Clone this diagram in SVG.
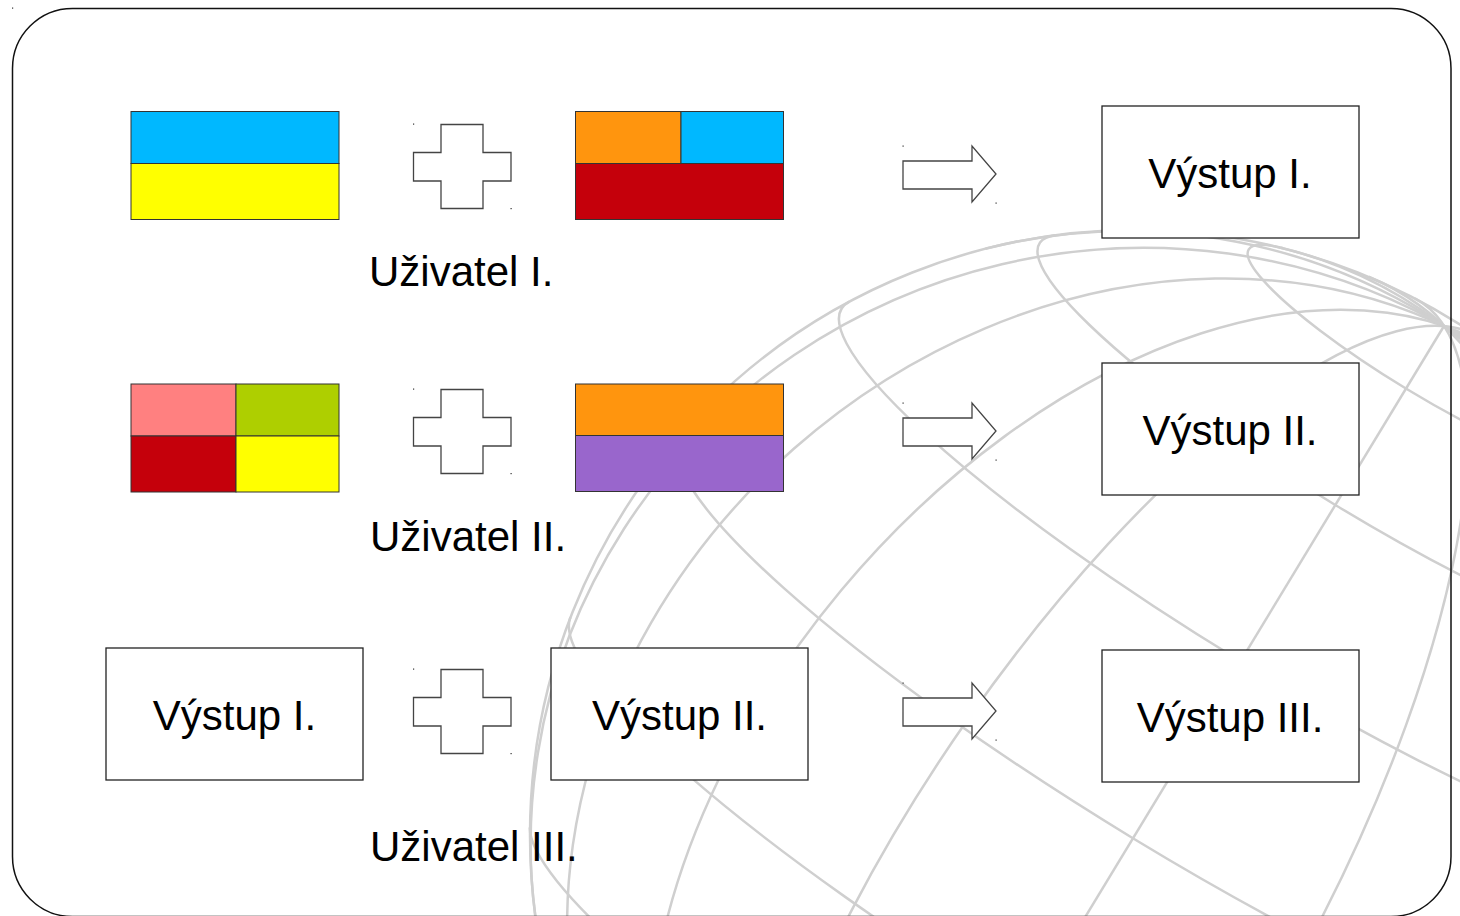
<svg xmlns="http://www.w3.org/2000/svg" width="1460" height="916" viewBox="0 0 1460 916">
<style>
.gl{fill:none;stroke:#cfcfcf;stroke-width:2.5;vector-effect:non-scaling-stroke}
.box{fill:#fff;stroke:#222;stroke-width:1.3}
.cell{stroke:#333;stroke-width:1}
.sym{fill:#fff;stroke:#444;stroke-width:1.3}
.dot{fill:#333}
.t{font-family:"Liberation Sans",Arial,sans-serif;font-size:42px;fill:#000}
.tc{text-anchor:middle}
</style>
<rect x="0" y="0" width="1460" height="916" fill="#fff"/>
<g id="globe">
<circle class="gl" cx="1135" cy="835" r="605"/>
<path class="gl" d="M0.6884 -0.7254A1 1 0 0 1 0.7254 0.6884A1 1 0 0 1 -0.6884 0.7254" transform="matrix(309.2 -508.8 499.6 325.4 1135 835)"/>
<path class="gl" d="M0.9391 -0.3437A1 1 0 0 1 0.3437 0.9391A1 1 0 0 1 -0.9391 0.3437" transform="matrix(309.2 -508.8 419.8 318.5 1135 835)"/>
<path class="gl" d="M0.9728 -0.2317A1 1 0 0 1 0.2317 0.9728A1 1 0 0 1 -0.9728 0.2317" transform="matrix(309.2 -508.8 289.4 273.2 1135 835)"/>
<path class="gl" d="M0.9816 -0.1908A1 1 0 0 1 0.1908 0.9816A1 1 0 0 1 -0.9816 0.1908" transform="matrix(309.2 -508.8 124.0 195.0 1135 835)"/>
<line class="gl" x1="1444" y1="326" x2="826" y2="1344"/>
<path class="gl" d="M0.9816 -0.1908A1 1 0 0 1 0.1908 0.9816A1 1 0 0 1 -0.9816 0.1908" transform="matrix(309.2 -508.8 -229.8 -19.8 1135 835)"/>
<path class="gl" d="M0.9728 -0.2317A1 1 0 0 1 0.2317 0.9728A1 1 0 0 1 -0.9728 0.2317" transform="matrix(309.2 -508.8 -375.6 -130.4 1135 835)"/>
<path class="gl" d="M0.9391 -0.3437A1 1 0 0 1 0.3437 0.9391A1 1 0 0 1 -0.9391 0.3437" transform="matrix(309.2 -508.8 -476.2 -225.3 1135 835)"/>
<path class="gl" d="M0.6884 -0.7254A1 1 0 0 1 0.7254 0.6884A1 1 0 0 1 -0.6884 0.7254" transform="matrix(309.2 -508.8 -519.2 -293.0 1135 835)"/>
<path class="gl" d="M0.8643 -0.5030A1 1 0 0 1 0 1A1 1 0 0 1 -0.8643 -0.5030" transform="matrix(176.9 107.4 -19.3 31.9 1425.6 356.9)"/>
<path class="gl" d="M0.9759 -0.2181A1 1 0 0 1 0 1A1 1 0 0 1 -0.9759 -0.2181" transform="matrix(332.5 201.8 -36.2 59.9 1371.9 445.3)"/>
<path class="gl" d="M0.9944 -0.1056A1 1 0 0 1 0 1A1 1 0 0 1 -0.9944 -0.1056" transform="matrix(448.0 271.9 -48.8 80.7 1289.6 580.6)"/>
<path class="gl" d="M0.9995 -0.0323A1 1 0 0 1 0 1A1 1 0 0 1 -0.9995 -0.0323" transform="matrix(509.4 309.2 -55.4 91.8 1188.7 746.7)"/>
<path class="gl" d="M0.9995 0.0323A1 1 0 0 1 0 1A1 1 0 0 1 -0.9995 0.0323" transform="matrix(509.4 309.2 -55.4 91.8 1081.3 923.3)"/>
<path class="gl" d="M0.9944 0.1056A1 1 0 0 1 0 1A1 1 0 0 1 -0.9944 0.1056" transform="matrix(448.0 271.9 -48.8 80.7 980.4 1089.4)"/>
</g>
<g id="frame">
<rect x="12.5" y="8.5" width="1438.5" height="908" rx="60" ry="60" fill="none" stroke="#111" stroke-width="1.5"/>
<rect class="dot" x="12" y="7.5" width="1.2" height="1.2"/>
</g>
<g id="flag1">
<rect class="cell" x="131" y="111.5" width="208" height="52" fill="#00b8ff"/>
<rect class="cell" x="131" y="163.5" width="208" height="56" fill="#ffff00"/>
</g>
<g id="plus1">
<polygon class="sym" points="441,124.5 483,124.5 483,152.5 511,152.5 511,181 483,181 483,208.5 441,208.5 441,181 413.5,181 413.5,152.5 441,152.5"/>
<rect class="dot" x="413" y="123.5" width="1.2" height="1.2"/><rect class="dot" x="510.5" y="208" width="1.2" height="1.2"/>
</g>
<g id="flag2">
<rect class="cell" x="575.5" y="111.5" width="105.5" height="52" fill="#ff950e"/>
<rect class="cell" x="681" y="111.5" width="102.5" height="52" fill="#00b8ff"/>
<rect class="cell" x="575.5" y="163.5" width="208" height="56" fill="#c5000b"/>
</g>
<g id="arrow1">
<polygon class="sym" points="903,161 972,161 972,146 996,174 972,202 972,189 903,189"/>
<rect class="dot" x="902.5" y="145.5" width="1.2" height="1.2"/><rect class="dot" x="995.5" y="202.5" width="1.2" height="1.2"/>
</g>
<g id="out1">
<rect class="box" x="1102" y="106" width="257" height="132"/>
<text class="t tc" x="1230" y="188">Výstup I.</text>
</g>
<g id="user1"><text class="t" x="369" y="286">Uživatel I.</text></g>

<g id="flag3">
<rect class="cell" x="131" y="384" width="105" height="52" fill="#ff8080"/>
<rect class="cell" x="236" y="384" width="103" height="52" fill="#aecf00"/>
<rect class="cell" x="131" y="436" width="105" height="56" fill="#c5000b"/>
<rect class="cell" x="236" y="436" width="103" height="56" fill="#ffff00"/>
</g>
<g id="plus2">
<polygon class="sym" points="441,389.5 483,389.5 483,417.5 511,417.5 511,446 483,446 483,473.5 441,473.5 441,446 413.5,446 413.5,417.5 441,417.5"/>
<rect class="dot" x="413" y="388.5" width="1.2" height="1.2"/><rect class="dot" x="510.5" y="473" width="1.2" height="1.2"/>
</g>
<g id="flag4">
<rect class="cell" x="575.5" y="384" width="208" height="51.5" fill="#ff950e"/>
<rect class="cell" x="575.5" y="435.5" width="208" height="56" fill="#9966cc"/>
</g>
<g id="arrow2">
<polygon class="sym" points="903,418 972,418 972,403 996,431 972,459 972,446 903,446"/>
<rect class="dot" x="902.5" y="402.5" width="1.2" height="1.2"/><rect class="dot" x="995.5" y="459.5" width="1.2" height="1.2"/>
</g>
<g id="out2">
<rect class="box" x="1102" y="363" width="257" height="132"/>
<text class="t tc" x="1230" y="445">Výstup II.</text>
</g>
<g id="user2"><text class="t" x="370" y="551">Uživatel II.</text></g>

<g id="in3a">
<rect class="box" x="106" y="648" width="257" height="132"/>
<text class="t tc" x="234.5" y="730">Výstup I.</text>
</g>
<g id="plus3">
<polygon class="sym" points="441,669.5 483,669.5 483,697.5 511,697.5 511,726 483,726 483,753.5 441,753.5 441,726 413.5,726 413.5,697.5 441,697.5"/>
<rect class="dot" x="413" y="668.5" width="1.2" height="1.2"/><rect class="dot" x="510.5" y="753" width="1.2" height="1.2"/>
</g>
<g id="in3b">
<rect class="box" x="551" y="648" width="257" height="132"/>
<text class="t tc" x="679.5" y="730">Výstup II.</text>
</g>
<g id="arrow3">
<polygon class="sym" points="903,698 972,698 972,683 996,711 972,739 972,726 903,726"/>
<rect class="dot" x="902.5" y="682.5" width="1.2" height="1.2"/><rect class="dot" x="995.5" y="739.5" width="1.2" height="1.2"/>
</g>
<g id="out3">
<rect class="box" x="1102" y="650" width="257" height="132"/>
<text class="t tc" x="1230" y="732">Výstup III.</text>
</g>
<g id="user3"><text class="t" x="370" y="861">Uživatel III.</text></g>
<g id="connectors"></g>
</svg>
